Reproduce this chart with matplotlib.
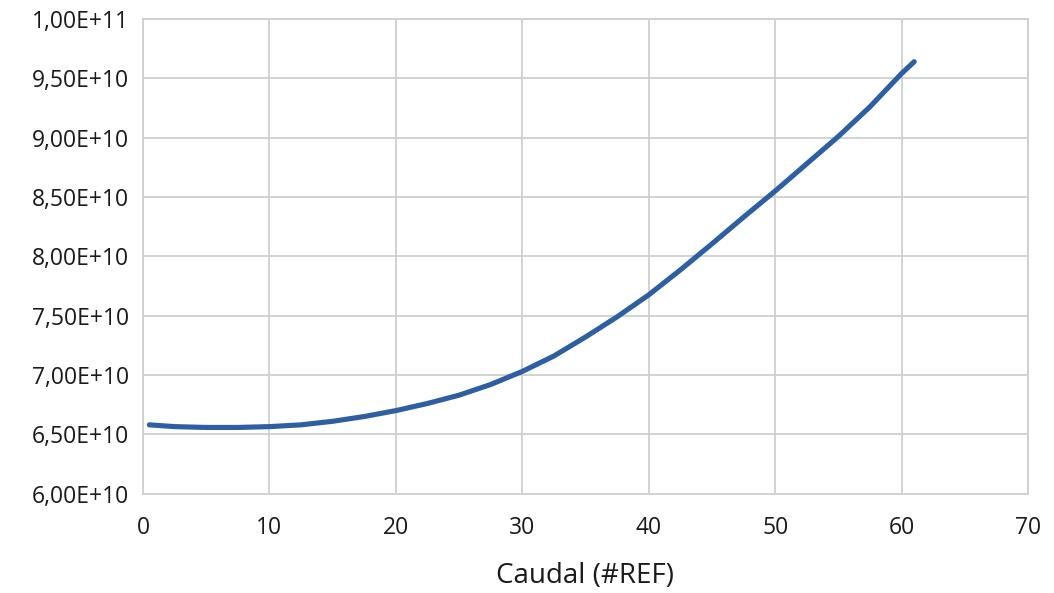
import matplotlib
matplotlib.use("Agg")
import matplotlib.pyplot as plt
from matplotlib.ticker import FuncFormatter, MultipleLocator

# Caudal vs. value series
caudal = [0.5, 2.5, 5, 7.5, 10, 12.5, 15, 17.5, 20, 22.5, 25, 27.5, 30,
          32.5, 35, 37.5, 40, 42.5, 45, 47.5, 50, 52.5, 55, 57.5, 60, 61]
valor = [6.58e10, 6.565e10, 6.558e10, 6.558e10, 6.565e10, 6.58e10, 6.61e10,
         6.65e10, 6.70e10, 6.76e10, 6.83e10, 6.92e10, 7.03e10, 7.16e10,
         7.32e10, 7.49e10, 7.675e10, 7.885e10, 8.105e10, 8.33e10, 8.55e10,
         8.78e10, 9.01e10, 9.26e10, 9.54e10, 9.64e10]

x_label = "Caudal (#REF)"

plt.rcParams['font.family'] = ['Open Sans', 'DejaVu Sans']

fig = plt.figure(figsize=(10.54, 5.93), dpi=100)
ax = fig.add_axes([0.1357, 0.1675, 0.8396, 0.8005])

ax.plot(caudal, valor, color='#2E5FA3', linewidth=3.7,
        solid_capstyle='round', solid_joinstyle='round', zorder=3)

ax.set_xlim(0, 70)
ax.set_ylim(6.0e10, 1.0e11)
ax.xaxis.set_major_locator(MultipleLocator(10))
ax.yaxis.set_major_locator(MultipleLocator(0.5e10))


def sci_comma(v, pos):
    s = f"{v:.2E}"
    mant, exp = s.split("E")
    sign = exp[0]
    e = int(exp[1:])
    return f"{mant.replace('.', ',')}E{sign}{e:02d}"


ax.yaxis.set_major_formatter(FuncFormatter(sci_comma))

ax.grid(True, color='#CFCFCF', linewidth=1.3)
ax.set_axisbelow(True)
for sp in ax.spines.values():
    sp.set_color('#CFCFCF')
    sp.set_linewidth(1.3)
ax.tick_params(length=0, labelsize=16.5, colors='#1a1a1a', pad=10)
ax.tick_params(axis='x', pad=16)

ax.set_xlabel(x_label, fontsize=20, color='#1a1a1a', labelpad=16)

fig.savefig("out.png", dpi=100)
